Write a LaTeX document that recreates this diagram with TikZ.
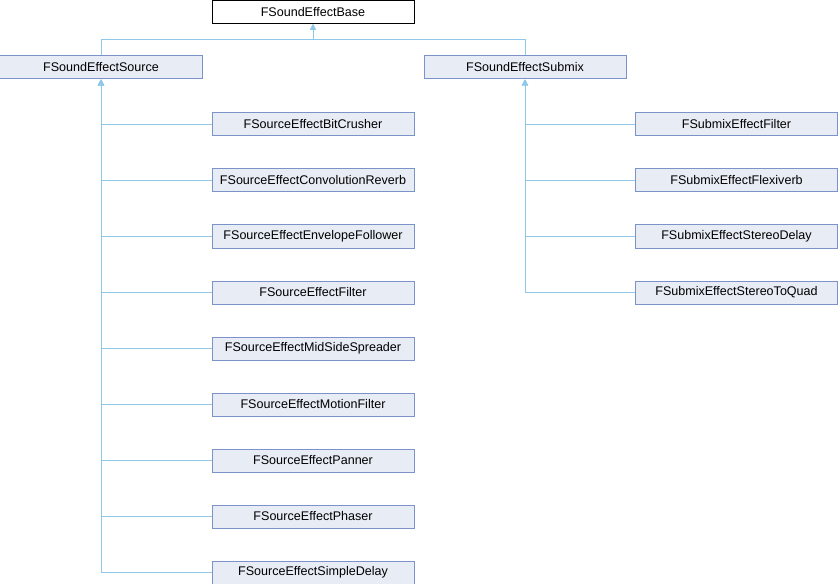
\documentclass[tikz,border=0pt]{standalone}
\usepackage{fontspec}
\setmainfont{Liberation Sans}
\usetikzlibrary{arrows.meta}
\definecolor{boxfill}{HTML}{E8ECF5}
\definecolor{boxline}{HTML}{7B93C8}
\definecolor{edgeblue}{HTML}{8FC8E8}
\begin{document}
\begin{tikzpicture}[x=1bp,y=-1bp,
    cls/.style={draw=boxline,fill=boxfill,line width=1bp,minimum width=202bp,
      minimum height=23bp,inner sep=0pt,font=\fontsize{12.6}{15}\selectfont},
    root/.style={cls,draw=black,fill=white},
    edge/.style={draw=edgeblue,line width=1bp,-{Triangle[length=6bp,width=6bp]}}]
	\useasboundingbox (0,0) rectangle (838,584);
	
	% base and its two subclasses
	\node[root] (base) at (313,12) {FSoundEffectBase};
	\node[cls] (src) at (101,67.5) {FSoundEffectSource};
	\node[cls] (sub) at (525,67.5) {FSoundEffectSubmix};
	\coordinate (bus) at (313,40);
	\draw[edge] (src.north) |- (bus) -- (base.south);
	\draw[edge] (sub.north) |- (bus) -- (base.south);
	
	% source effects
	\foreach \name [count=\i from 0] in {BitCrusher,ConvolutionReverb,EnvelopeFollower,
	    Filter,MidSideSpreader,MotionFilter,Panner,Phaser,SimpleDelay} {
		\node[cls] (src\i) at (313,124.5+56*\i) {FSourceEffect\name};
		\draw[edge] (src\i.west) -| (src.south);
	}
	
	% submix effects
	\foreach \name [count=\i from 0] in {Filter,Flexiverb,StereoDelay,StereoToQuad} {
		\node[cls] (sub\i) at (736.5,124.5+56*\i) {FSubmixEffect\name};
		\draw[edge] (sub\i.west) -| (sub.south);
	}
\end{tikzpicture}
\end{document}
